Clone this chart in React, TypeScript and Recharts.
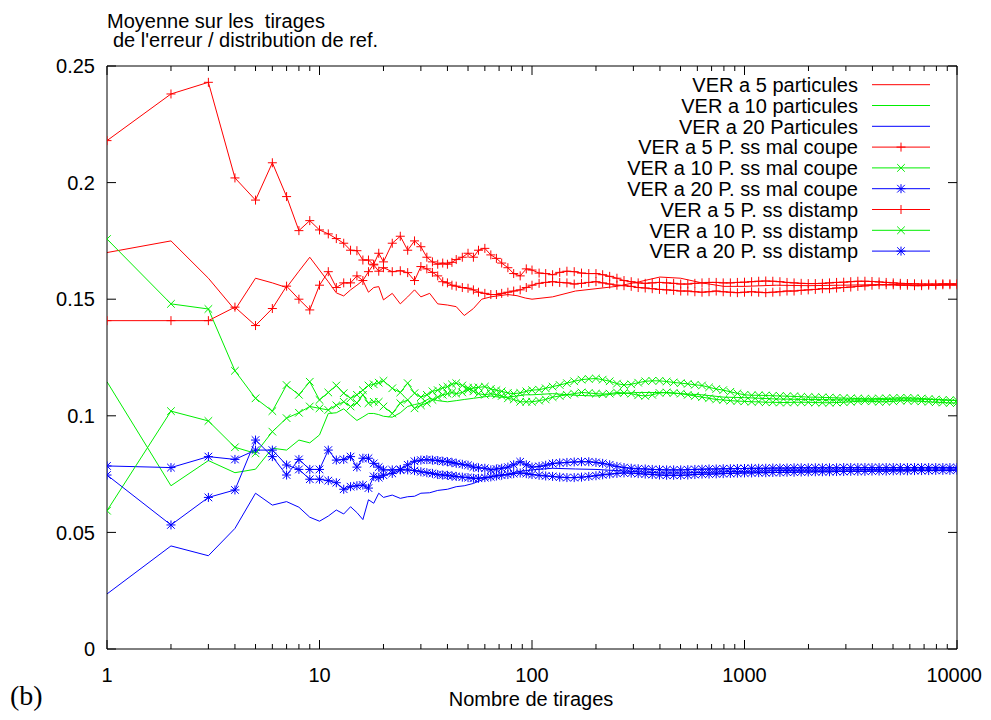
import React from "react";
import { LineChart, Line, XAxis, YAxis } from "recharts";

// ---------- data ----------
// x positions (number of draws) for the marker series
const XM = [1,2,3,4,5,6,7,8,9,10,11,12,13,14,15,16,17,18,19,20,
  22,24,26,28,
  30,32,34,36,38,40,42,44,47,50,53,56,60,64,68,72,77,82,88,94,100,
  108,116,125,135,146,158,171,185,200,215,
  232,251,271,293,316,341,368,398,430,464,
  501,541,584,631,681,736,794,858,926,1000,
  1080,1166,1259,1359,1468,1585,1711,1848,1995,2154,
  2326,2512,2712,2929,3162,3415,3687,3981,4299,4642,
  5012,5412,5843,6310,6813,7356,7943,8577,9261,10000];

// x positions for the plain-line series
const XT = [1,2,3,4,5,6,7,8,9,10,11,12,13,14,15,16,17,18,19,20,
  22,24,26,28,30,33,36,40,44,48,53,58,64,70,77,85,93,100,
  125,160,200,250,320,400,500,630,800,1000,1410,2000,2820,3980,5620,7940,10000];

// VER a 5 particules
const RED_LINE = [0.170,0.175,0.159,0.1454,0.159,0.157,0.155,0.162,0.168,0.1625,0.1575,0.1527,0.1514,0.154,0.156,0.158,0.153,0.155,0.1554,0.1497,
  0.1525,0.148,0.151,0.154,0.151,0.1525,0.148,0.1475,0.1468,0.143,0.146,0.150,0.151,0.1515,0.152,0.1515,0.1505,0.150,
  0.151,0.1535,0.1545,0.1555,0.1575,0.1595,0.159,0.157,0.1555,0.1555,0.156,0.1558,0.156,0.1562,0.1562,0.156,0.156];
// VER a 10 particules
const GREEN_LINE = [0.1146,0.070,0.0808,0.0756,0.0771,0.0861,0.0853,0.0896,0.0884,0.0918,0.101,0.1013,0.103,0.1003,0.098,0.0995,0.101,0.101,0.1005,0.0998,
  0.0994,0.1013,0.104,0.1048,0.1054,0.1075,0.1065,0.106,0.1065,0.107,0.1075,0.108,0.1085,0.108,0.108,0.1085,0.109,0.109,
  0.1095,0.1088,0.1085,0.1095,0.110,0.110,0.1095,0.109,0.108,0.1078,0.1072,0.107,0.1068,0.1068,0.1072,0.107,0.1065];
// VER a 20 Particules
const BLUE_LINE = [0.0236,0.0442,0.040,0.0517,0.0668,0.0617,0.0632,0.0608,0.0565,0.0548,0.057,0.0596,0.0579,0.061,0.0585,0.0555,0.064,0.0625,0.0668,0.065,
  0.066,0.0646,0.0653,0.0655,0.0668,0.067,0.068,0.0685,0.0696,0.070,0.071,0.0725,0.0739,0.0746,0.075,0.076,0.0765,0.0768,
  0.0775,0.0772,0.077,0.0765,0.076,0.0755,0.0755,0.0757,0.076,0.0762,0.0765,0.0767,0.0768,0.077,0.077,0.0772,0.0772];

// VER a 5 P. ss mal coupe
const RED_MAL = [0.218,0.238,0.243,0.202,0.1925,0.2085,0.194,0.1794,0.1837,0.1797,0.178,0.176,0.174,0.171,0.1708,0.1668,0.1668,0.1647,0.162,0.1635,
  0.1618,0.1622,0.1614,0.158,
  0.164,0.163,0.1615,0.160,0.1575,0.157,0.156,0.1556,0.155,0.1547,0.154,0.153,0.1525,0.152,0.152,0.1525,0.153,0.1535,0.154,0.155,0.156,
  0.1568,0.1572,0.1575,0.1572,0.157,0.1565,0.1568,0.1572,0.1575,0.157,
  0.1565,0.156,0.1558,0.1555,0.155,0.1548,0.1545,0.1542,0.154,0.1538,
  0.1535,0.1535,0.1532,0.153,0.1532,0.1535,0.1532,0.153,0.1528,0.153,
  0.1532,0.153,0.1528,0.153,0.1532,0.1535,0.1535,0.1538,0.154,0.1542,
  0.1545,0.1545,0.1548,0.155,0.1552,0.1555,0.1557,0.156,0.1562,0.1562,
  0.1562,0.156,0.156,0.1558,0.1558,0.156,0.156,0.1562,0.1562,0.1562];
// VER a 10 P. ss mal coupe
const GREEN_MAL = [0.1758,0.148,0.1458,0.1193,0.1075,0.102,0.1132,0.109,0.1146,0.1068,0.110,0.113,0.1097,0.1075,0.109,0.111,0.113,0.1135,0.1142,0.115,
  0.1118,0.110,0.114,0.1097,
  0.108,0.109,0.1105,0.111,0.112,0.1125,0.1135,0.114,0.113,0.112,0.1105,0.1095,0.109,0.1095,0.109,0.1085,0.1075,0.107,0.106,0.106,0.106,
  0.1065,0.107,0.108,0.1085,0.109,0.1095,0.110,0.1098,0.1095,0.1093,
  0.1095,0.110,0.1098,0.1095,0.1088,0.1085,0.109,0.1098,0.110,0.1098,
  0.1095,0.109,0.1085,0.108,0.1075,0.107,0.1068,0.1065,0.1063,0.1062,
  0.106,0.106,0.1058,0.1058,0.1057,0.1057,0.1058,0.1058,0.1058,0.1057,
  0.1056,0.1056,0.1057,0.1058,0.106,0.1062,0.1063,0.1062,0.106,0.106,
  0.1062,0.1065,0.1065,0.1063,0.1062,0.106,0.1058,0.1057,0.1055,0.1055];
// VER a 20 P. ss mal coupe
const BLUE_MAL = [0.0785,0.0778,0.0825,0.0813,0.0853,0.0853,0.0789,0.077,0.0728,0.0728,0.0722,0.0713,0.0685,0.0696,0.070,0.0703,0.069,0.074,0.0735,0.0745,
  0.0753,0.0768,0.0768,0.0765,
  0.076,0.0756,0.0753,0.0748,0.0746,0.0745,0.0742,0.074,0.0737,0.0735,0.0732,0.0732,0.0735,0.0738,0.0742,0.0745,0.0748,0.0752,0.0755,0.0752,0.0748,
  0.0745,0.0742,0.074,0.0737,0.0735,0.0735,0.0737,0.074,0.0743,0.0747,
  0.075,0.0753,0.0755,0.0754,0.0752,0.075,0.0748,0.0746,0.0745,0.0745,
  0.0745,0.0746,0.0748,0.075,0.075,0.0751,0.0752,0.0753,0.0754,0.0755,
  0.0755,0.0756,0.0756,0.0757,0.0757,0.0758,0.0758,0.0759,0.0759,0.076,
  0.076,0.076,0.0761,0.0761,0.0762,0.0762,0.0762,0.0763,0.0763,0.0763,
  0.0764,0.0764,0.0764,0.0765,0.0765,0.0765,0.0766,0.0766,0.0766,0.0767];
// VER a 5 P. ss distamp
const RED_DIST = [0.1408,0.1408,0.1408,0.1466,0.1387,0.146,0.1556,0.150,0.1454,0.156,0.1618,0.155,0.157,0.157,0.160,0.158,0.1618,0.165,0.1697,0.166,
  0.174,0.177,0.171,0.175,
  0.1725,0.168,0.166,0.165,0.1655,0.165,0.1658,0.167,0.168,0.1697,0.168,0.171,0.1718,0.169,0.1675,0.1655,0.1635,0.161,0.160,0.163,0.1625,
  0.1612,0.161,0.1605,0.1615,0.162,0.1618,0.1612,0.161,0.161,0.1605,
  0.1598,0.159,0.158,0.1575,0.157,0.1568,0.157,0.1572,0.157,0.1568,
  0.1565,0.1565,0.1568,0.157,0.1572,0.1572,0.157,0.157,0.1572,0.1573,
  0.1575,0.1577,0.1578,0.1577,0.1575,0.1572,0.157,0.1568,0.1567,0.1567,
  0.1568,0.157,0.1572,0.1573,0.1575,0.1577,0.1577,0.1576,0.1574,0.1572,
  0.157,0.1568,0.1567,0.1566,0.1565,0.1565,0.1565,0.1566,0.1566,0.1566];
// VER a 10 P. ss distamp
const GREEN_DIST = [0.0593,0.102,0.0978,0.0865,0.0839,0.0932,0.099,0.1013,0.104,0.1032,0.1025,0.1045,0.106,0.104,0.1055,0.109,0.1054,0.106,0.106,0.104,
  0.101,0.1054,0.1068,0.1032,
  0.1045,0.1055,0.1068,0.108,0.109,0.1095,0.110,0.1095,0.110,0.111,0.112,0.1122,0.1125,0.1115,0.111,0.1105,0.1098,0.1095,0.1098,0.1105,0.111,
  0.1112,0.1118,0.1125,0.1132,0.114,0.1148,0.1155,0.1158,0.116,0.1155,
  0.1148,0.1138,0.1132,0.1135,0.1142,0.1148,0.115,0.115,0.1147,0.1143,
  0.114,0.1137,0.1133,0.113,0.1122,0.1115,0.111,0.1103,0.1096,0.109,
  0.1088,0.1088,0.1087,0.1086,0.1085,0.1084,0.1083,0.1082,0.108,0.108,
  0.1079,0.1078,0.1077,0.1076,0.1075,0.1074,0.1073,0.1073,0.1074,0.1075,
  0.1076,0.1077,0.1077,0.1076,0.1074,0.1072,0.107,0.1068,0.1067,0.1066];
// VER a 20 P. ss distamp
const BLUE_DIST = [0.0746,0.0532,0.065,0.0682,0.0896,0.0825,0.0746,0.0813,0.077,0.077,0.0853,0.081,0.0813,0.0825,0.078,0.0818,0.0818,0.0796,0.078,0.0768,
  0.0768,0.077,0.079,0.0805,
  0.081,0.0812,0.081,0.0808,0.0805,0.0803,0.080,0.0796,0.0792,0.0788,0.078,0.0777,0.0775,0.0768,0.0772,0.0775,0.078,0.079,0.0803,0.079,0.078,
  0.0783,0.0788,0.0795,0.0798,0.080,0.0802,0.0803,0.0803,0.080,0.0796,
  0.079,0.0783,0.0778,0.0775,0.0773,0.0772,0.077,0.0769,0.0768,0.0768,
  0.0768,0.0769,0.077,0.0771,0.0772,0.0772,0.0773,0.0773,0.0774,0.0774,
  0.0775,0.0775,0.0775,0.0776,0.0776,0.0776,0.0777,0.0777,0.0777,0.0777,
  0.0777,0.0777,0.0777,0.0778,0.0778,0.0778,0.0778,0.0778,0.0778,0.0778,
  0.0778,0.0778,0.0778,0.0778,0.0778,0.0778,0.0778,0.0778,0.0778,0.0778];

const Y_TICKS = [0, 0.05, 0.1, 0.15, 0.2, 0.25];
const X_MAJOR = [1, 10, 100, 1000, 10000];
const X_TICKS = [1, 10, 100, 1000]
  .flatMap((d) => [1, 2, 3, 4, 5, 6, 7, 8, 9].map((k) => k * d))
  .concat([10000]);

const LEGEND_LABELS = [
  "VER a 5 particules",
  "VER a 10 particules",
  "VER a 20 Particules",
  "VER a 5 P. ss mal coupe",
  "VER a 10 P. ss mal coupe",
  "VER a 20 P. ss mal coupe",
  "VER a 5 P. ss distamp",
  "VER a 10 P. ss distamp",
  "VER a 20 P. ss distamp",
];

// ---------- build tables ----------
const rowsT = XT.map((x, i) => ({ x, r: RED_LINE[i], g: GREEN_LINE[i], b: BLUE_LINE[i] }));
const rowsM = XM.map((x, i) => ({
  x,
  rm: RED_MAL[i], gm: GREEN_MAL[i], bm: BLUE_MAL[i],
  rd: RED_DIST[i], gd: GREEN_DIST[i], bd: BLUE_DIST[i],
}));

const RED = "#ff0000";
const GREEN = "#00ee00";
const BLUE = "#0000ff";
const FONT = "'Liberation Sans', Arial, Helvetica, sans-serif";

// ---------- markers ----------
type Mk = "none" | "plus" | "cross" | "star";
function markerPath(kind: Mk, cx: number, cy: number) {
  const p = 4.5, c = 3.8;
  const plus = `M${cx - p},${cy}H${cx + p}M${cx},${cy - p}V${cy + p}`;
  const cross = `M${cx - c},${cy - c}L${cx + c},${cy + c}M${cx - c},${cy + c}L${cx + c},${cy - c}`;
  if (kind === "plus") return plus;
  if (kind === "cross") return cross;
  if (kind === "star") return plus + cross;
  return "";
}
const makeDot = (kind: Mk, color: string) => (props: any) => {
  const { cx, cy, index } = props;
  if (cx == null || cy == null) return <g key={index} />;
  return <path key={index} d={markerPath(kind, cx, cy)} stroke={color} strokeWidth={1} fill="none" />;
};

// ---------- ticks ----------
const BottomTick = (props: any) => {
  const { x, y, payload } = props;
  const major = X_MAJOR.includes(payload.value);
  const last = payload.value === 10000;
  return (
    <g>
      <line x1={x} x2={x} y1={y} y2={y - (major ? 9 : 5)} stroke="#000" strokeWidth={1} />
      {major && (
        <text
          x={last ? x + 25 : x}
          y={y + 33}
          textAnchor={last ? "end" : "middle"}
          fontFamily={FONT}
          fontSize={20}
          fill="#000"
        >
          {payload.value}
        </text>
      )}
    </g>
  );
};
const TopTick = (props: any) => {
  const { x, y, payload } = props;
  const major = X_MAJOR.includes(payload.value);
  return <line x1={x} x2={x} y1={y} y2={y + (major ? 9 : 5)} stroke="#000" strokeWidth={1} />;
};
const LeftTick = (props: any) => {
  const { x, y, payload } = props;
  return (
    <g>
      <line x1={x} x2={x + 9} y1={y} y2={y} stroke="#000" strokeWidth={1} />
      <text x={x - 12} y={y} dy="0.36em" textAnchor="end" fontFamily={FONT} fontSize={20} fill="#000">
        {String(payload.value)}
      </text>
    </g>
  );
};
const RightTick = (props: any) => {
  const { x, y } = props;
  return <line x1={x} x2={x - 9} y1={y} y2={y} stroke="#000" strokeWidth={1} />;
};

const thin = [
  { key: "r", color: RED },
  { key: "g", color: GREEN },
  { key: "b", color: BLUE },
];
const marked: { key: string; color: string; mk: Mk }[] = [
  { key: "rm", color: RED, mk: "plus" },
  { key: "gm", color: GREEN, mk: "cross" },
  { key: "bm", color: BLUE, mk: "star" },
  { key: "rd", color: RED, mk: "plus" },
  { key: "gd", color: GREEN, mk: "cross" },
  { key: "bd", color: BLUE, mk: "star" },
];
const legendStyle: { color: string; mk: Mk }[] = [
  { color: RED, mk: "none" },
  { color: GREEN, mk: "none" },
  { color: BLUE, mk: "none" },
  { color: RED, mk: "plus" },
  { color: GREEN, mk: "cross" },
  { color: BLUE, mk: "star" },
  { color: RED, mk: "plus" },
  { color: GREEN, mk: "cross" },
  { color: BLUE, mk: "star" },
];

export default function App() {
  return (
    <div style={{ position: "relative", width: 991, height: 720, margin: "-8px 0 0 -8px", background: "#fff" }}>
      <LineChart width={991} height={720} margin={{ top: 65, right: 33, bottom: 31, left: 47 }}>
        <XAxis
          xAxisId="bottom"
          dataKey="x"
          type="number"
          scale="log"
          domain={[1, 10000]}
          allowDataOverflow
          ticks={X_TICKS}
          interval={0}
          height={40}
          tickSize={0}
          tickMargin={0}
          tickLine={false}
          tick={<BottomTick />}
          axisLine={{ stroke: "#000", strokeWidth: 1 }}
        />
        <XAxis
          xAxisId="top"
          orientation="top"
          dataKey="x"
          type="number"
          scale="log"
          domain={[1, 10000]}
          allowDataOverflow
          ticks={X_TICKS}
          interval={0}
          height={1}
          tickSize={0}
          tickMargin={0}
          tickLine={false}
          tick={<TopTick />}
          axisLine={{ stroke: "#000", strokeWidth: 1 }}
        />
        <YAxis
          yAxisId="left"
          type="number"
          domain={[0, 0.25]}
          allowDataOverflow
          ticks={Y_TICKS}
          interval={0}
          width={60}
          tickSize={0}
          tickMargin={0}
          tickLine={false}
          tick={<LeftTick />}
          axisLine={{ stroke: "#000", strokeWidth: 1 }}
        />
        <YAxis
          yAxisId="right"
          orientation="right"
          type="number"
          domain={[0, 0.25]}
          allowDataOverflow
          ticks={Y_TICKS}
          interval={0}
          width={1}
          tickSize={0}
          tickMargin={0}
          tickLine={false}
          tick={<RightTick />}
          axisLine={{ stroke: "#000", strokeWidth: 1 }}
        />
        {thin.map((s) => (
          <Line
            key={s.key}
            xAxisId="bottom"
            yAxisId="left"
            data={rowsT}
            dataKey={s.key}
            type="linear"
            stroke={s.color}
            strokeWidth={1}
            dot={false}
            activeDot={false}
            isAnimationActive={false}
          />
        ))}
        {marked.map((s) => (
          <Line
            key={s.key}
            xAxisId="bottom"
            yAxisId="left"
            data={rowsM}
            dataKey={s.key}
            type="linear"
            stroke={s.color}
            strokeWidth={1}
            dot={makeDot(s.mk, s.color)}
            activeDot={false}
            isAnimationActive={false}
          />
        ))}
      </LineChart>
      <svg
        width={991}
        height={720}
        style={{ position: "absolute", left: 0, top: 0, pointerEvents: "none", overflow: "visible" }}
      >
        <text x={107} y={27.5} fontFamily={FONT} fontSize={20} fill="#000" style={{ whiteSpace: "pre" }}>
          {"Moyenne sur les  tirages"}
        </text>
        <text x={113} y={46.5} fontFamily={FONT} fontSize={20} fill="#000">
          de l'erreur / distribution de ref.
        </text>
        <text x={531} y={706} textAnchor="middle" fontFamily={FONT} fontSize={20} fill="#000">
          Nombre de tirages
        </text>
        <text x={10} y={705} fontFamily="'Liberation Serif', 'DejaVu Serif', serif" fontSize={28} fill="#000">
          (b)
        </text>
        {LEGEND_LABELS.map((label, i) => {
          const cy = 84.7 + i * 20.8;
          const st = legendStyle[i];
          return (
            <g key={label}>
              <text x={858} y={cy} dy="0.36em" textAnchor="end" fontFamily={FONT} fontSize={20} fill="#000">
                {label}
              </text>
              <line x1={872} x2={930} y1={cy} y2={cy} stroke={st.color} strokeWidth={1} />
              {st.mk !== "none" && (
                <path d={markerPath(st.mk, 901, cy)} stroke={st.color} strokeWidth={1} fill="none" />
              )}
            </g>
          );
        })}
      </svg>
    </div>
  );
}
